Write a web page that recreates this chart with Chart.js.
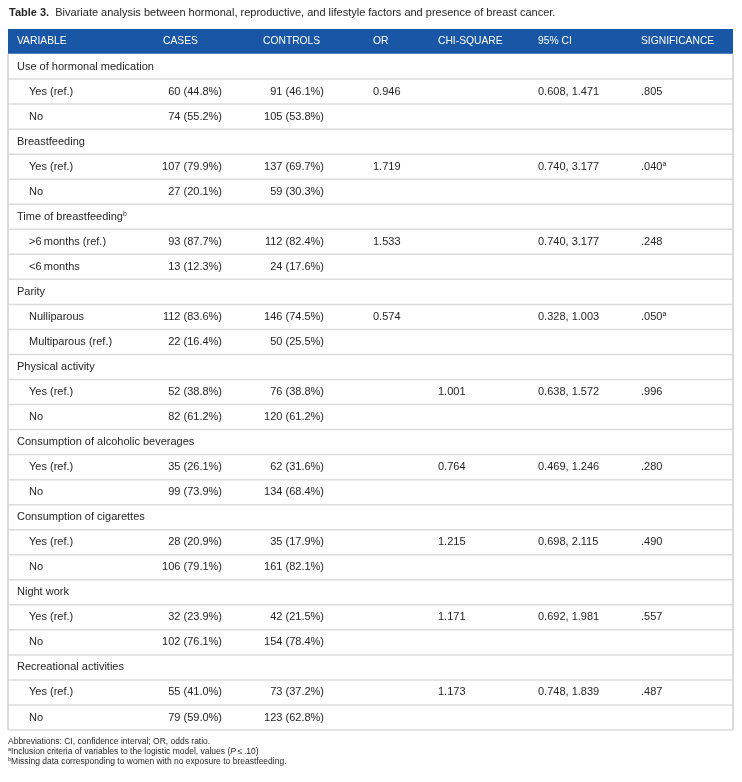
<!DOCTYPE html>
<html>
<head>
<meta charset="utf-8">
<style>
  html, body { margin: 0; padding: 0; background: #ffffff; }
  canvas { display: block; }
</style>
<script src="https://cdn.jsdelivr.net/npm/chart.js@4"></script>
</head>
<body>
<canvas id="table3" width="742" height="782"></canvas>
<script>
// Table data
const columnHeaders = ['VARIABLE', 'CASES', 'CONTROLS', 'OR', 'CHI-SQUARE', '95% CI', 'SIGNIFICANCE'];

const variableNames = [
    'Use of hormonal medication',
    'Breastfeeding',
    'Time of breastfeeding',
    'Parity',
    'Physical activity',
    'Consumption of alcoholic beverages',
    'Consumption of cigarettes',
    'Night work',
    'Recreational activities'
];
const variableNotes = ['', '', 'b', '', '', '', '', '', ''];

const levelNames = [
    ['Yes (ref.)', 'No'],
    ['Yes (ref.)', 'No'],
    ['>6\u2009months (ref.)', '<6\u2009months'],
    ['Nulliparous', 'Multiparous (ref.)'],
    ['Yes (ref.)', 'No'],
    ['Yes (ref.)', 'No'],
    ['Yes (ref.)', 'No'],
    ['Yes (ref.)', 'No'],
    ['Yes (ref.)', 'No']
];

const casesCount = [[60, 74], [107, 27], [93, 13], [112, 22], [52, 82], [35, 99], [28, 106], [32, 102], [55, 79]];
const casesPercent = [[44.8, 55.2], [79.9, 20.1], [87.7, 12.3], [83.6, 16.4], [38.8, 61.2], [26.1, 73.9], [20.9, 79.1], [23.9, 76.1], [41.0, 59.0]];
const controlsCount = [[91, 105], [137, 59], [112, 24], [146, 50], [76, 120], [62, 134], [35, 161], [42, 154], [73, 123]];
const controlsPercent = [[46.1, 53.8], [69.7, 30.3], [82.4, 17.6], [74.5, 25.5], [38.8, 61.2], [31.6, 68.4], [17.9, 82.1], [21.5, 78.4], [37.2, 62.8]];

const oddsRatios = [0.946, 1.719, 1.533, 0.574, null, null, null, null, null];
const chiSquares = [null, null, null, null, 1.001, 0.764, 1.215, 1.171, 1.173];
const ciLower = [0.608, 0.740, 0.740, 0.328, 0.638, 0.469, 0.698, 0.692, 0.748];
const ciUpper = [1.471, 3.177, 3.177, 1.003, 1.572, 1.246, 2.115, 1.981, 1.839];
const significance = [0.805, 0.040, 0.248, 0.050, 0.996, 0.280, 0.490, 0.557, 0.487];
const significanceNotes = ['', 'a', '', 'a', '', '', '', '', ''];

// Layout and styles
const COLORS = {
    header: '#1957a6',
    headerText: '#ffffff',
    text: '#262626',
    rule: '#dcdcdc',
    border: '#d0d0d0'
};
const FONT = '"Liberation Sans", Arial, sans-serif';
const TABLE_WIDTH = 725;
// column anchors in table units (0 = left border)
const COL = {
    variable: 9, level: 21,
    casesHead: 155, cases: 214,
    controlsHead: 255, controls: 316,
    or: 365, chi: 430, ci: 530, sig: 633
};
const headerAnchors = [COL.variable, COL.casesHead, COL.controlsHead, COL.or, COL.chi, COL.ci, COL.sig];

// Build row list: header, then section + two levels per variable
const rows = [{ type: 'header' }];
variableNames.forEach((name, s) => {
    rows.push({ type: 'section', s });
    rows.push({ type: 'level', s, k: 0 });
    rows.push({ type: 'level', s, k: 1 });
});
const rowKeys = rows.map((r, i) => r.type === 'header' ? 'header' : (r.type === 'section' ? variableNames[r.s] : variableNames[r.s] + ' / ' + levelNames[r.s][r.k]));

const fmtCount = (n, p) => n + ' (' + p.toFixed(1) + '%)';
const fmt3 = v => v.toFixed(3);
const fmtP = v => v.toFixed(3).replace(/^0/, '');

function drawRuns(ctx, x, y, runs) {
    let cx = x;
    runs.forEach(run => {
        ctx.font = run.font;
        ctx.fillText(run.text, cx, y + (run.dy || 0));
        cx += ctx.measureText(run.text).width;
    });
}

const tablePlugin = {
    id: 'tableText',
    afterDatasetsDraw(chart) {
        const { ctx, chartArea, scales: { x, y } } = chart;
        const half = (y.getPixelForValue(1) - y.getPixelForValue(0)) / 2;
        const px = u => x.getPixelForValue(u);
        const body = '11px ' + FONT;
        const sup = '7px ' + FONT;

        ctx.save();

        // horizontal rules
        ctx.strokeStyle = COLORS.rule;
        ctx.lineWidth = 1.5;
        for (let i = 1; i < rows.length; i++) {
            const yy = y.getPixelForValue(i) + half;
            ctx.beginPath();
            ctx.moveTo(chartArea.left, yy);
            ctx.lineTo(chartArea.right, yy);
            ctx.stroke();
        }
        // side borders
        ctx.strokeStyle = COLORS.border;
        ctx.lineWidth = 1.5;
        ctx.beginPath();
        ctx.moveTo(chartArea.left, y.getPixelForValue(0) + half);
        ctx.lineTo(chartArea.left, chartArea.bottom);
        ctx.moveTo(chartArea.right, y.getPixelForValue(0) + half);
        ctx.lineTo(chartArea.right, chartArea.bottom);
        ctx.stroke();

        ctx.textBaseline = 'middle';
        rows.forEach((r, i) => {
            const cy = y.getPixelForValue(i);
            if (r.type === 'header') {
                ctx.fillStyle = COLORS.headerText;
                ctx.font = '10.3px ' + FONT;
                ctx.textAlign = 'left';
                columnHeaders.forEach((h, c) => ctx.fillText(h, px(headerAnchors[c]), cy));
                return;
            }
            ctx.fillStyle = COLORS.text;
            ctx.textAlign = 'left';
            if (r.type === 'section') {
                const runs = [{ text: variableNames[r.s], font: body }];
                if (variableNotes[r.s]) runs.push({ text: variableNotes[r.s], font: sup, dy: -3 });
                drawRuns(ctx, px(COL.variable), cy, runs);
                return;
            }
            const s = r.s, k = r.k;
            ctx.font = body;
            ctx.fillText(levelNames[s][k], px(COL.level), cy);
            ctx.textAlign = 'right';
            ctx.fillText(fmtCount(casesCount[s][k], casesPercent[s][k]), px(COL.cases), cy);
            ctx.fillText(fmtCount(controlsCount[s][k], controlsPercent[s][k]), px(COL.controls), cy);
            ctx.textAlign = 'left';
            if (k === 0) {
                if (oddsRatios[s] !== null) ctx.fillText(fmt3(oddsRatios[s]), px(COL.or), cy);
                if (chiSquares[s] !== null) ctx.fillText(fmt3(chiSquares[s]), px(COL.chi), cy);
                ctx.fillText(fmt3(ciLower[s]) + ', ' + fmt3(ciUpper[s]), px(COL.ci), cy);
                const runs = [{ text: fmtP(significance[s]), font: body }];
                if (significanceNotes[s]) runs.push({ text: significanceNotes[s], font: sup, dy: -3 });
                drawRuns(ctx, px(COL.sig), cy, runs);
            }
        });

        // title
        ctx.fillStyle = COLORS.text;
        ctx.textAlign = 'left';
        drawRuns(ctx, chartArea.left + 1, 13, [
            { text: 'Table 3.', font: 'bold 11px ' + FONT },
            { text: '  Bivariate analysis between hormonal, reproductive, and lifestyle factors and presence of breast cancer.', font: '11px ' + FONT }
        ]);

        // footnotes
        const fn = '8.5px ' + FONT;
        const fnSup = '5.5px ' + FONT;
        const fy = chartArea.bottom + 12;
        drawRuns(ctx, chartArea.left, fy, [{ text: 'Abbreviations: CI, confidence interval; OR, odds ratio.', font: fn }]);
        drawRuns(ctx, chartArea.left, fy + 9.6, [
            { text: 'a', font: fnSup, dy: -2 },
            { text: 'Inclusion criteria of variables to the logistic model, values (', font: fn },
            { text: 'P', font: 'italic ' + fn },
            { text: '\u2009\u2264\u2009.10)', font: fn }
        ]);
        drawRuns(ctx, chartArea.left, fy + 19.2, [
            { text: 'b', font: fnSup, dy: -2 },
            { text: 'Missing data corresponding to women with no exposure to breastfeeding.', font: fn }
        ]);

        ctx.restore();
    }
};

new Chart(document.getElementById('table3').getContext('2d'), {
    type: 'bar',
    data: {
        labels: rowKeys,
        datasets: [{
            data: rows.map(() => [0, TABLE_WIDTH]),
            backgroundColor: rows.map(r => r.type === 'header' ? COLORS.header : '#ffffff'),
            borderWidth: 0,
            barPercentage: 1,
            categoryPercentage: 1
        }]
    },
    options: {
        indexAxis: 'y',
        responsive: false,
        animation: false,
        devicePixelRatio: 1,
        layout: { padding: { left: 8, right: 9, top: 29, bottom: 52 } },
        scales: {
            x: { type: 'linear', min: 0, max: TABLE_WIDTH, display: false },
            y: { display: false }
        },
        plugins: {
            legend: { display: false },
            tooltip: { enabled: false }
        }
    },
    plugins: [tablePlugin]
});
</script>
</body>
</html>
